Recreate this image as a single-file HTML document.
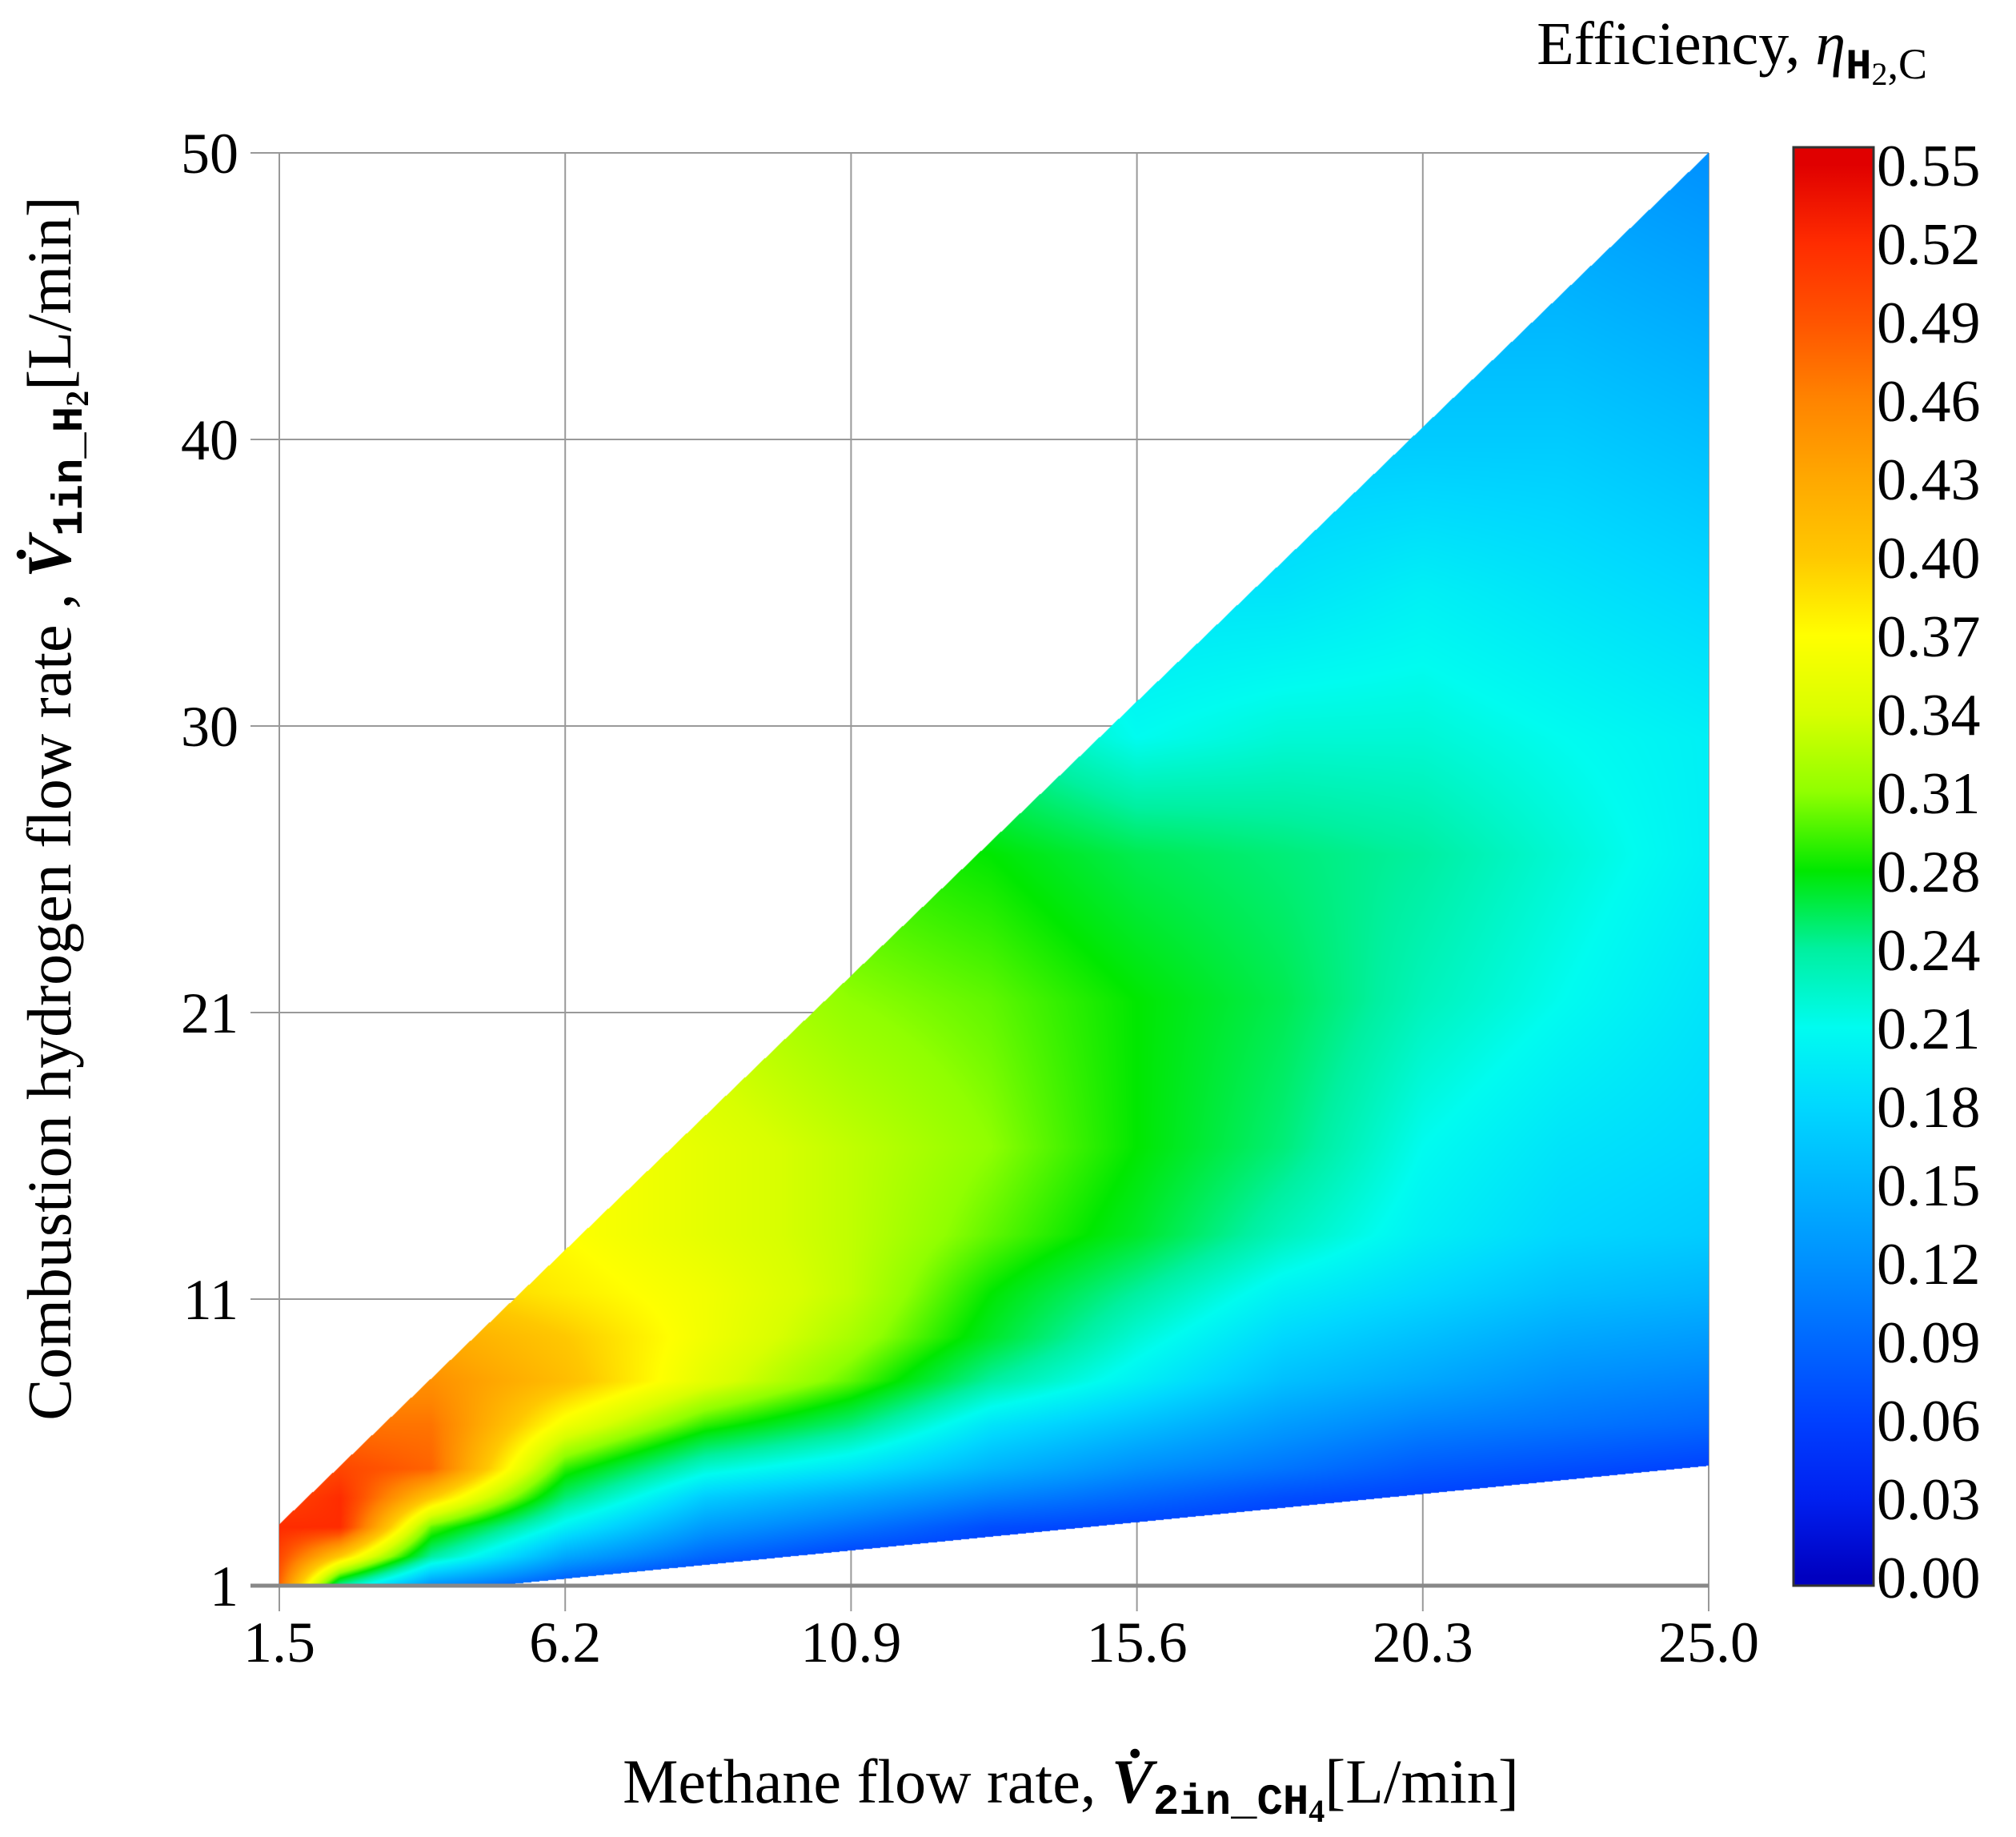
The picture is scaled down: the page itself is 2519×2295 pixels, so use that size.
<!DOCTYPE html>
<html><head><meta charset="utf-8"><style>
html,body{margin:0;padding:0;background:#fff;}
#wrap{position:relative;width:2519px;height:2295px;overflow:hidden;font-family:"Liberation Serif",serif;}
svg text{font-family:"Liberation Serif",serif;fill:#000;}
</style></head><body>
<div id="wrap">
<svg id="svg" width="2519" height="2295" style="position:absolute;left:0;top:0">
<g id="grid"></g>
<foreignObject x="349" y="191" width="1786" height="1790">
<canvas id="cv" width="1786" height="1790" xmlns="http://www.w3.org/1999/xhtml"></canvas>
</foreignObject>
<g id="axes"></g>
<text x="1338" y="2252" font-size="78" text-anchor="middle">Methane flow rate, <tspan font-style="italic" font-weight="bold">V̇</tspan><tspan font-size="54" dy="14" font-weight="bold" font-family="Liberation Mono">2in_CH</tspan><tspan font-size="40" dy="10" font-weight="bold">4</tspan><tspan dy="-24">[L/min]</tspan></text>
<text transform="translate(88,1010) rotate(-90)" font-size="78" text-anchor="middle">Combustion hydrogen flow rate , <tspan font-style="italic" font-weight="bold">V̇</tspan><tspan font-size="54" dy="14" font-weight="bold" font-family="Liberation Mono">1in_H</tspan><tspan font-size="40" dy="8" font-weight="bold">2</tspan><tspan dy="-22">[L/min]</tspan></text>
<text x="2408" y="80" font-size="76" text-anchor="end">Efficiency, <tspan font-style="italic">η</tspan><tspan font-size="54" dy="18" font-family="Liberation Mono" font-weight="bold">H</tspan><tspan font-size="40" dy="8">2</tspan><tspan font-size="54" dy="-8">,C</tspan></text>
<defs><linearGradient id="cbg" x1="0" y1="1" x2="0" y2="0"></linearGradient></defs>
<rect x="2241" y="184" width="100" height="1797" fill="url(#cbg)" stroke="#333" stroke-width="3"/>
<g id="cbl"></g>
</svg>
</div>
<script>
const xTickLabels=["1.5","6.2","10.9","15.6","20.3","25.0"];
const yTickLabels=["1","11","21","30","40","50"];
const cbLabels=["0.00","0.03","0.06","0.09","0.12","0.15","0.18","0.21","0.24","0.28","0.31","0.34","0.37","0.40","0.43","0.46","0.49","0.52","0.55"];
const cbColors=["#0000c0","#0020f0","#0040ff","#0068ff","#0090ff","#00b4ff","#00d8ff","#00fcf0","#00f0a0","#00e800","#90ff00","#d8ff00","#ffff00","#ffc800","#ffa800","#ff8400","#ff5400","#ff2c00","#e00000"];
const gx=[1.5,2.5,4,6.2,8.5,10.9,13.2,15.6,18,20.3,22.6,25];
const gy=[1,2,3,4,5,6.5,8,9.5,11,13,16,21,26,30,35,40,45,50];
const gv=[
[.48,.24,.12,.07,.04,.03,.02,.02,.01,.01,.00,.00],
[.50,.40,.24,.14,.09,.06,.05,.04,.03,.02,.02,.01],
[.52,.52,.30,.20,.13,.10,.07,.06,.05,.04,.03,.02],
[.50,.52,.40,.25,.17,.14,.11,.09,.07,.06,.05,.04],
[.48,.50,.48,.29,.22,.19,.15,.12,.10,.08,.07,.06],
[.45,.47,.47,.36,.29,.25,.19,.16,.13,.11,.10,.09],
[.42,.45,.45,.41,.35,.30,.24,.20,.16,.14,.12,.11],
[.40,.43,.43,.40,.36,.32,.27,.22,.18,.16,.14,.13],
[.39,.40,.40,.38,.36,.33,.28,.24,.20,.18,.16,.15],
[.38,.38,.38,.37,.35,.33,.30,.27,.23,.20,.18,.17],
[.37,.37,.37,.37,.35,.33,.31,.28,.25,.21,.19,.18],
[.35,.35,.35,.34,.33,.31,.30,.28,.26,.23,.21,.19],
[.32,.32,.32,.32,.31,.29,.28,.26,.25,.24,.22,.20],
[.30,.30,.30,.30,.28,.26,.24,.21,.22,.22,.21,.20],
[.25,.25,.25,.25,.24,.22,.20,.19,.19,.20,.19,.18],
[.20,.20,.20,.20,.19,.18,.17,.17,.17,.17,.17,.16],
[.16,.16,.16,.16,.16,.15,.15,.15,.15,.15,.15,.14],
[.13,.13,.13,.13,.13,.13,.13,.13,.13,.13,.13,.12]];
const upperEdge=[[1.5,3.1],[25,50]];
const lowerEdge=[[1.5,1],[5.05,1],[25,5.1]];

const L=349,R=2135,T=191,B=1981,X0=1.5,X1=25,Y0=1,Y1=50;
const NS="http://www.w3.org/2000/svg";
function mk(tag,attrs,parent){const e=document.createElementNS(NS,tag);for(const k in attrs)e.setAttribute(k,attrs[k]);parent.appendChild(e);return e;}
const grid=document.getElementById('grid'),axes=document.getElementById('axes');
xTickLabels.forEach((lab,i)=>{
 const x=L+i*(R-L)/(xTickLabels.length-1);
 const l=mk('line',{x1:x,x2:x,y1:T,y2:B+32,stroke:'#999','stroke-width':2},grid);
 
 
 const t=mk('text',{x:x,y:2076,'font-size':72,'text-anchor':'middle'},axes);t.textContent=lab;
 
 
});
yTickLabels.forEach((lab,i)=>{
 const y=B-i*(B-T)/(yTickLabels.length-1);
 const l=mk('line',{x1:313,x2:R,y1:y,y2:y,stroke:'#999','stroke-width':2},grid);
 
 
 const t=mk('text',{x:298,y:y+25,'font-size':72,'text-anchor':'end'},axes);t.textContent=lab;
 
 
});
const ax=mk('line',{x1:313,x2:R,y1:B,y2:B,stroke:'#888','stroke-width':5},axes);



const grad=document.getElementById('cbg'),cbl=document.getElementById('cbl');
cbColors.forEach((c,i)=>{mk('stop',{offset:((11+i*98)/1797).toFixed(4),'stop-color':c},grad);});
cbLabels.forEach((lab,i)=>{
 const y=1970-i*98;
 const t=mk('text',{x:2345,y:y+26,'font-size':74},cbl);t.textContent=lab;
 
 
});
const cbv=cbLabels.map(Number);
const rgb=cbColors.map(h=>[parseInt(h.substr(1,2),16),parseInt(h.substr(3,2),16),parseInt(h.substr(5,2),16)]);
function color(v){
 if(v<=cbv[0])return rgb[0];
 for(let i=1;i<cbv.length;i++){if(v<=cbv[i]){const f=(v-cbv[i-1])/(cbv[i]-cbv[i-1]);const a=rgb[i-1],b=rgb[i];return [a[0]+(b[0]-a[0])*f,a[1]+(b[1]-a[1])*f,a[2]+(b[2]-a[2])*f];}}
 return rgb[rgb.length-1];
}
function idx(arr,v){let i=0;while(i<arr.length-2&&v>arr[i+1])i++;return [i,Math.max(0,Math.min(1,(v-arr[i])/(arr[i+1]-arr[i])))];}
function val(x,y){const [i,fx]=idx(gx,x),[j,fy]=idx(gy,y);
 return gv[j][i]*(1-fx)*(1-fy)+gv[j][i+1]*fx*(1-fy)+gv[j+1][i]*(1-fx)*fy+gv[j+1][i+1]*fx*fy;}
function edge(pts,x){for(let i=1;i<pts.length;i++){if(x<=pts[i][0]){const f=(x-pts[i-1][0])/(pts[i][0]-pts[i-1][0]);return pts[i-1][1]+(pts[i][1]-pts[i-1][1])*f;}}return pts[pts.length-1][1];}
const cv=document.getElementById('cv');


const ctx=cv.getContext('2d'),W=cv.width,H=cv.height,img=ctx.createImageData(W,H),d=img.data;
for(let px=0;px<W;px++){
 const x=X0+(px+0.5)/W*(X1-X0),up=edge(upperEdge,x),lo=edge(lowerEdge,x);
 for(let py=0;py<H;py++){
  const y=Y1-(py+0.5)/H*(Y1-Y0);
  if(y>up||y<lo)continue;
  const c=color(val(x,y)),k=(py*W+px)*4;
  d[k]=c[0];d[k+1]=c[1];d[k+2]=c[2];d[k+3]=255;
 }
}
ctx.putImageData(img,0,0);
</script>
</body></html>
